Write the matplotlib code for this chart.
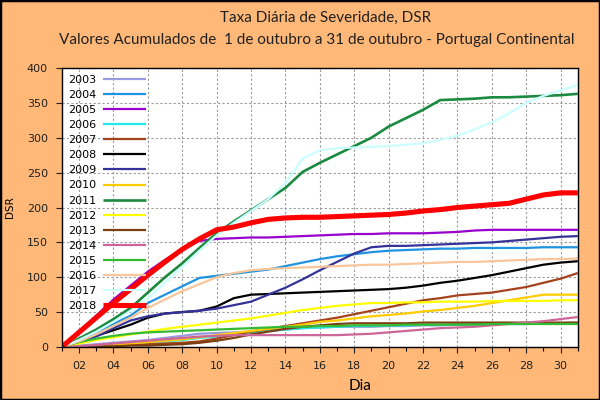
import matplotlib
matplotlib.use("Agg")
import matplotlib.pyplot as plt
from matplotlib.patches import Rectangle
from matplotlib.ticker import MultipleLocator

days = list(range(1, 32))

years = ["2003", "2004", "2005", "2006", "2007", "2008", "2009", "2010",
         "2011", "2012", "2013", "2014", "2015", "2016", "2017", "2018"]

dsr_2003 = [0, 2, 4, 6, 8, 10, 13, 16, 19, 20, 21, 22, 23, 25, 27, 28, 29, 29, 29, 30, 30, 31, 31, 32, 32, 33, 33, 33, 34, 34, 35]
dsr_2004 = [0, 10, 21, 33, 45, 63, 75, 87, 99, 102, 105, 108, 111, 116, 121, 126, 130, 133, 136, 138, 139, 140, 141, 141, 142, 142, 142, 142, 143, 143, 143]
dsr_2005 = [0, 22, 45, 68, 88, 108, 125, 140, 152, 155, 156, 157, 157, 158, 159, 160, 161, 162, 162, 163, 163, 163, 164, 165, 167, 168, 168, 168, 168, 168, 168]
dsr_2006 = [0, 1, 2, 3, 4, 6, 8, 10, 13, 15, 18, 21, 23, 25, 27, 28, 29, 30, 30, 31, 31, 32, 32, 32, 33, 33, 33, 33, 34, 34, 34]
dsr_2007 = [0, 0, 1, 2, 3, 4, 5, 6, 8, 12, 17, 22, 26, 30, 34, 38, 42, 47, 52, 57, 62, 67, 70, 74, 76, 78, 82, 86, 92, 98, 106]
dsr_2008 = [0, 8, 16, 24, 32, 42, 48, 50, 52, 58, 70, 75, 76, 77, 78, 79, 80, 81, 82, 83, 85, 88, 92, 95, 99, 103, 108, 113, 118, 121, 123]
dsr_2009 = [0, 6, 15, 27, 38, 44, 48, 50, 52, 55, 60, 65, 75, 85, 97, 110, 122, 134, 143, 145, 145, 146, 147, 148, 149, 150, 152, 154, 156, 158, 159]
dsr_2010 = [0, 1, 2, 3, 5, 7, 9, 11, 14, 17, 20, 23, 26, 29, 32, 36, 38, 41, 44, 46, 48, 51, 53, 56, 59, 63, 67, 71, 75, 75, 75]
dsr_2011 = [0, 12, 25, 40, 56, 78, 100, 120, 142, 163, 180, 196, 212, 228, 251, 264, 276, 288, 300, 316, 328, 340, 354, 355, 356, 358, 358, 359, 360, 361, 363]
dsr_2012 = [0, 5, 10, 14, 18, 22, 26, 29, 32, 35, 38, 41, 45, 49, 53, 56, 59, 61, 63, 63, 64, 64, 65, 65, 65, 66, 66, 66, 66, 67, 67]
dsr_2013 = [0, 0, 1, 1, 2, 2, 3, 4, 6, 9, 13, 18, 22, 26, 29, 31, 33, 34, 34, 34, 34, 35, 35, 35, 35, 35, 35, 35, 35, 35, 35]
dsr_2014 = [0, 1, 3, 5, 7, 9, 11, 13, 15, 16, 17, 17, 17, 17, 17, 17, 17, 18, 19, 21, 23, 25, 27, 28, 29, 31, 33, 35, 37, 40, 43]
dsr_2015 = [0, 7, 12, 16, 19, 21, 22, 23, 24, 25, 26, 27, 28, 29, 29, 30, 30, 31, 31, 31, 32, 32, 32, 32, 32, 33, 33, 33, 33, 33, 33]
dsr_2016 = [0, 8, 18, 30, 42, 56, 68, 80, 90, 100, 106, 110, 112, 113, 114, 115, 116, 117, 118, 118, 119, 120, 121, 122, 122, 123, 124, 125, 126, 126, 127]
dsr_2017 = [0, 10, 22, 36, 52, 70, 92, 115, 138, 160, 178, 195, 212, 235, 270, 282, 285, 286, 287, 288, 290, 292, 297, 303, 312, 322, 335, 350, 360, 368, 376]
dsr_2018 = [0, 21, 42, 63, 83, 103, 122, 140, 155, 168, 172, 178, 183, 185, 186, 186, 187, 188, 189, 190, 192, 195, 197, 200, 202, 204, 206, 212, 218, 221, 221]

series = [dsr_2003, dsr_2004, dsr_2005, dsr_2006, dsr_2007, dsr_2008, dsr_2009, dsr_2010,
          dsr_2011, dsr_2012, dsr_2013, dsr_2014, dsr_2015, dsr_2016, dsr_2017, dsr_2018]

colors = ["#9999dd", "#1f93e0", "#9900cc", "#22e8ee", "#a3421c", "#000000", "#333399", "#ffcc00",
          "#1a8a3e", "#ffff00", "#7b3f10", "#cc6699", "#33bb33", "#f8c69a", "#ccffff", "#ff0000"]
widths = [1.6] * 16
widths[8] = 1.9
widths[15] = 3.7

bg = "#ffb877"
fig = plt.figure(figsize=(6, 4), dpi=100, facecolor=bg)
ax = fig.add_axes([0.103, 0.1325, 0.86, 0.6975])
ax.set_facecolor("white")

for yr, vals, c, w in zip(years, series, colors, widths):
    ax.plot(days, vals, color=c, lw=w, label=yr, solid_capstyle="butt")

ax.set_xlim(1, 31)
ax.set_ylim(0, 400)
ax.xaxis.set_minor_locator(MultipleLocator(1))
ax.set_xticks(range(2, 31, 2))
ax.set_xticklabels(["%02d" % d for d in range(2, 31, 2)])
ax.yaxis.set_major_locator(MultipleLocator(50))
ax.tick_params(axis="both", labelsize=8, colors="#202020", length=4, width=0.8, pad=6)
ax.tick_params(axis="x", which="minor", length=3, width=0.8)
ax.grid(True, which="major", color="#999999", lw=0.8, ls=(0, (2, 2)))
for s in ax.spines.values():
    s.set_linewidth(1.0)

ax.set_xlabel("Dia", fontsize=11, family="Lato")
ax.xaxis.set_label_coords(0.578, -0.115)
ax.set_ylabel("DSR", fontsize=7.5)
ax.yaxis.set_label_coords(-0.09, 0.5)

leg = ax.legend(loc="upper left", frameon=False, fontsize=8, markerfirst=False,
                handlelength=3.8, handletextpad=0.6, labelspacing=0.46,
                borderaxespad=0.45, borderpad=0.15)

fig.text(0.543, 0.955, "Taxa Diária de Severidade, DSR", ha="center", va="center",
         fontsize=11, family="Lato", color="#202020")
fig.text(0.528, 0.9, "Valores Acumulados de  1 de outubro a 31 de outubro - Portugal Continental",
         ha="center", va="center", fontsize=11, family="Lato", color="#202020")

fig.patches.append(Rectangle((0, 0), 1, 1, transform=fig.transFigure, fill=False,
                             edgecolor="black", lw=2.5))

fig.savefig("out.png", dpi=100, facecolor=bg)
